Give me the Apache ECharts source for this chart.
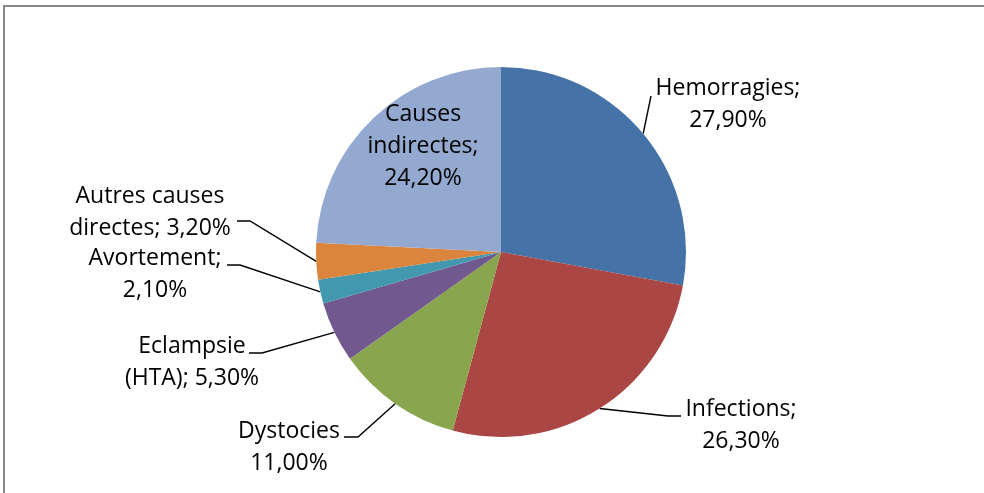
<!DOCTYPE html>
<html>
<head>
<meta charset="utf-8">
<script src="https://cdn.jsdelivr.net/npm/echarts@6/dist/echarts.min.js"></script>
<style>
html,body{margin:0;padding:0;background:#fff;}
#main{width:984px;height:493px;}
</style>
</head>
<body>
<div id="main"></div>
<script>
// données
var causes=['Hemorragies','Infections','Dystocies','Eclampsie (HTA)','Avortement','Autres causes directes','Causes indirectes'];
var pourcentages=[27.9,26.3,11.0,5.3,2.1,3.2,24.2];
// texte affiché (retours à la ligne comme dans l'original)
var etiquettes=['Hemorragies;','Infections;','Dystocies','Eclampsie\n(HTA);','Avortement;','Autres causes\ndirectes;','Causes\nindirectes;'];
var couleurs=['#4572A7','#AA4643','#89A54E','#71588F','#4198AF','#DB843D','#93A9CF'];

// position des étiquettes : centre du texte, coude et bout du trait
var posEtiq=[
	{x:728,y:104,coude:[651,96],bout:[651,96]},
	{x:741,y:425,coude:[668,416],bout:[681,416]},
	{x:289,y:447,coude:[358,437],bout:[344,437]},
	{x:192,y:362,coude:[262,353],bout:[249,353]},
	{x:155,y:274,coude:[240,265],bout:[227,265]},
	{x:150,y:212,coude:[250,221],bout:[237,221]},
	{x:423,y:146,coude:null,bout:null}
];

function fmt(v){
	return v.toFixed(2).replace('.',',')+'%';
}

var donnees=[];
for(var i=0;i<causes.length;i++){
	var txt=etiquettes[i];
	// "Eclampsie\n(HTA);" et "Autres causes\ndirectes;" : valeur sur la même ligne
	if(i==3 || i==5){
		txt=txt+' '+fmt(pourcentages[i]);
	}else{
		txt=txt+'\n'+fmt(pourcentages[i]);
	}
	var obj={name:causes[i],value:pourcentages[i],texte:txt,itemStyle:{color:couleurs[i]}};
	if(i==6){
		obj.labelLine={show:false};
	}
	donnees.push(obj);
}

var myChart=echarts.init(document.getElementById('main'));
var option={
	backgroundColor:'#fff',
	animation:false,
	graphic:[{
		type:'rect',
		shape:{x:4,y:6,width:1000,height:520},
		style:{fill:'none',stroke:'#878787',lineWidth:2},
		silent:true
	}],
	series:[{
		type:'pie',
		center:[501,252],
		radius:185,
		startAngle:90,
		clockwise:true,
		data:donnees,
		itemStyle:{borderWidth:0},
		label:{
			show:true,
			formatter:function(p){return p.data.texte;},
			color:'#000',
			fontFamily:'Open Sans',
			fontSize:23,
			lineHeight:32,
			align:'center'
		},
		labelLine:{
			show:true,
			lineStyle:{color:'#000',width:1.4}
		},
		labelLayout:function(params){
			var e=posEtiq[params.dataIndex];
			var res={x:e.x,y:e.y,align:'center',verticalAlign:'middle'};
			if(e.coude && params.labelLinePoints){
				var p0=params.labelLinePoints[0];
				res.labelLinePoints=[[p0[0],p0[1]],e.coude,e.bout];
			}
			return res;
		},
		emphasis:{disabled:true}
	}]
};
myChart.setOption(option);
</script>
</body>
</html>
